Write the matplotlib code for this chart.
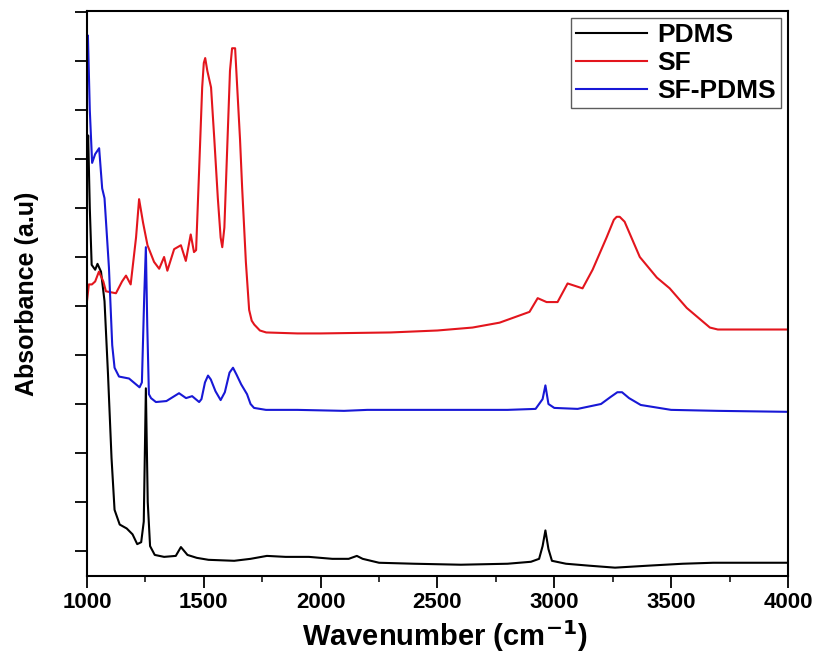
import matplotlib
matplotlib.use("Agg")
import matplotlib.pyplot as plt
from matplotlib.ticker import MultipleLocator, NullFormatter

plt.rcParams['font.family'] = ['Liberation Sans', 'DejaVu Sans']
plt.rcParams['font.weight'] = 'bold'

# spectra (wavenumber in cm-1, absorbance in a.u.)
pdms_wn = [1000, 1005, 1012, 1020, 1035, 1045, 1060, 1075, 1090, 1105, 1118, 1140, 1170,
           1195, 1215, 1232, 1243, 1252, 1260, 1270, 1290, 1330, 1380, 1402, 1430, 1470,
           1520, 1630, 1700, 1770, 1850, 1950, 2050, 2120, 2155, 2180, 2250, 2400, 2600,
           2800, 2900, 2935, 2950, 2962, 2975, 2990, 3050, 3150, 3260, 3400, 3550, 3680,
           3800, 4000]
pdms_abs = [3.90, 4.24, 3.50, 2.92, 2.87, 2.93, 2.85, 2.55, 1.80, 0.95, 0.42, 0.27, 0.23,
            0.17, 0.07, 0.09, 0.30, 1.66, 0.50, 0.05, -0.04, -0.06, -0.05, 0.04, -0.04, -0.07,
            -0.09, -0.10, -0.08, -0.05, -0.06, -0.06, -0.08, -0.08, -0.05, -0.08, -0.12, -0.13,
            -0.14, -0.13, -0.11, -0.08, 0.05, 0.21, 0.02, -0.10, -0.13, -0.15, -0.17, -0.15,
            -0.13, -0.12, -0.12, -0.12]

sf_wn = [1000, 1008, 1021, 1035, 1051, 1070, 1081, 1124, 1150, 1167, 1187, 1210, 1223, 1240,
         1259, 1287, 1309, 1330, 1344, 1373, 1402, 1423, 1444, 1458, 1467, 1480, 1493, 1500,
         1506, 1515, 1531, 1545, 1560, 1572, 1579, 1588, 1600, 1612, 1621, 1634, 1643, 1655,
         1664, 1680, 1694, 1705, 1716, 1740, 1767, 1900, 2000, 2300, 2500, 2650, 2766, 2894,
         2929, 2967, 3014, 3057, 3121, 3164, 3224, 3255, 3267, 3280, 3301, 3366, 3439, 3494,
         3567, 3666, 3700, 4000]
sf_abs = [2.55, 2.72, 2.72, 2.75, 2.85, 2.75, 2.65, 2.63, 2.75, 2.81, 2.72, 3.20, 3.59, 3.35,
          3.12, 2.95, 2.88, 3.00, 2.86, 3.08, 3.12, 2.96, 3.23, 3.05, 3.07, 3.89, 4.73, 4.98,
          5.03, 4.90, 4.73, 4.20, 3.60, 3.20, 3.10, 3.30, 4.10, 4.90, 5.13, 5.13, 4.73, 4.20,
          3.71, 2.95, 2.46, 2.35, 2.31, 2.25, 2.23, 2.22, 2.22, 2.23, 2.25, 2.28, 2.33, 2.44,
          2.58, 2.54, 2.54, 2.73, 2.68, 2.87, 3.20, 3.38, 3.41, 3.41, 3.36, 3.00, 2.79, 2.68,
          2.48, 2.28, 2.26, 2.26]

sfpdms_wn = [1000, 1004, 1012, 1022, 1035, 1052, 1065, 1075, 1094, 1108, 1118, 1137, 1180,
             1210, 1225, 1235, 1245, 1252, 1258, 1265, 1274, 1295, 1340, 1394, 1424, 1450,
             1480, 1490, 1505, 1518, 1530, 1550, 1572, 1590, 1610, 1625, 1640, 1660, 1685,
             1700, 1715, 1766, 1900, 2100, 2200, 2500, 2800, 2920, 2950, 2962, 2975, 3000,
             3100, 3200, 3240, 3270, 3290, 3320, 3370, 3500, 3700, 4000]
sfpdms_abs = [4.80, 5.26, 4.50, 3.96, 4.05, 4.11, 3.70, 3.60, 2.89, 2.10, 1.87, 1.78, 1.76,
              1.70, 1.67, 1.72, 2.60, 3.10, 2.30, 1.60, 1.56, 1.52, 1.53, 1.61, 1.56, 1.58,
              1.52, 1.55, 1.72, 1.79, 1.75, 1.63, 1.54, 1.62, 1.82, 1.87, 1.80, 1.70, 1.60,
              1.50, 1.46, 1.44, 1.44, 1.43, 1.44, 1.44, 1.44, 1.45, 1.55, 1.69, 1.50, 1.46,
              1.45, 1.50, 1.57, 1.62, 1.62, 1.56, 1.49, 1.44, 1.43, 1.42]

fig = plt.figure(figsize=(8.16, 6.71), dpi=100)
ax = fig.add_axes([0.1066, 0.1416, 0.859, 0.842])

ax.plot(pdms_wn, pdms_abs, color='black', lw=1.5, label='PDMS', solid_joinstyle='round')
ax.plot(sf_wn, sf_abs, color='#e3151d', lw=1.5, label='SF', solid_joinstyle='round')
ax.plot(sfpdms_wn, sfpdms_abs, color='#1818d6', lw=1.5, label='SF-PDMS', solid_joinstyle='round')

ax.set_xlim(1000, 4000)
ax.set_ylim(-0.255, 5.51)

ax.xaxis.set_major_locator(MultipleLocator(500))
ax.xaxis.set_minor_locator(MultipleLocator(250))
ax.yaxis.set_major_locator(MultipleLocator(0.5))
ax.yaxis.set_major_formatter(NullFormatter())

ax.tick_params(axis='both', which='major', direction='out', length=8.5, width=1.3,
               labelsize=16, pad=3)
ax.tick_params(axis='x', which='minor', direction='out', length=4.5, width=1.1)
ax.tick_params(top=False, right=False, which='both')
for lab in ax.get_xticklabels():
    lab.set_fontweight('bold')

for sp in ax.spines.values():
    sp.set_linewidth(1.5)

ax.set_xlabel('Wavenumber (cm$^{\\mathbf{-1}}$)', fontsize=21, fontweight='bold')
ax.set_ylabel('Absorbance (a.u)', fontsize=18, fontweight='bold')
ax.xaxis.set_label_coords(0.51, -0.075)
ax.yaxis.set_label_coords(-0.068, 0.5)

leg = ax.legend(loc='upper right', prop={'size': 19, 'weight': 'bold'}, frameon=True,
                fancybox=False, edgecolor='#333333', handlelength=2.7, borderaxespad=0.25,
                labelspacing=0.15, handletextpad=0.38, borderpad=0.2)
leg.get_frame().set_linewidth(1.0)

fig.savefig('out.png', dpi=100)
